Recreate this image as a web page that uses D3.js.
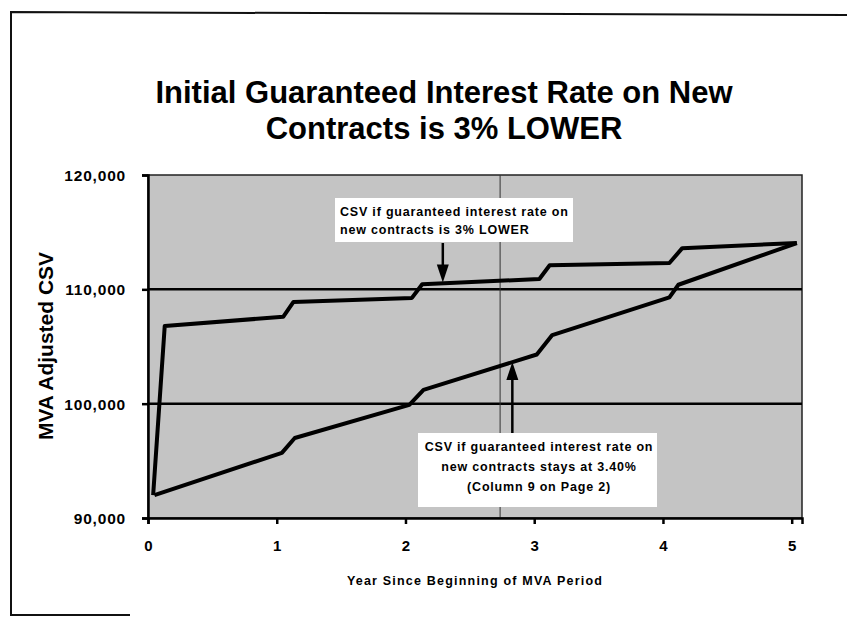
<!DOCTYPE html>
<html lang="en">
<head>
<meta charset="utf-8">
<title>MVA Adjusted CSV</title>
<script src="https://cdn.jsdelivr.net/npm/d3@7"></script>
<style>
  body { margin: 0; background: #fff; }
  svg text { font-family: "Liberation Sans", Arial, sans-serif; fill: #000; }
</style>
</head>
<body>
<div id="chart"></div>
<script>

// data
var xTicks = [0, 1, 2, 3, 4, 5]
var yTicks = [90000, 100000, 110000, 120000]

// CSV if guaranteed rate on new contracts is 3% lower
var lowerRateYears = [0.04, 0.13, 1.05, 1.13, 2.05, 2.13, 3.04, 3.12, 4.05, 4.15, 5.04]
var lowerRateCsv   = [92000, 106800, 107600, 108900, 109250, 110450, 110900, 112100, 112300, 113600, 114050]

// CSV if guaranteed rate stays at 3.40%
var sameRateYears = [0.05, 1.04, 1.14, 2.03, 2.14, 3.02, 3.14, 4.05, 4.12, 5.04]
var sameRateCsv   = [92000, 95700, 97000, 99900, 101200, 104300, 106000, 109300, 110400, 114050]

var titleLines = ["Initial Guaranteed Interest Rate on New", "Contracts is 3% LOWER"]
var upperNote = ["CSV if guaranteed interest rate on", "new contracts is 3% LOWER"]
var lowerNote = ["CSV if guaranteed interest rate on", "new contracts stays at 3.40%", "(Column 9 on Page 2)"]

var width = 847
var height = 617
var plot = {left: 148, right: 802, top: 175, bottom: 518}

var svg = d3.select("#chart")
  .append("svg")
    .attr("width", width)
    .attr("height", height)

// outer frame of the scanned page
svg.append("path")
  .attr("d", "M847,15 L11,12 L11,615 L130,615")
  .attr("fill", "none")
  .attr("stroke", "#111")
  .attr("stroke-width", 2)

var x = d3.scaleLinear().domain([0, 5.08]).range([plot.left, plot.right])
var y = d3.scaleLinear().domain([90000, 120000]).range([plot.bottom, plot.top])

// plot area
svg.append("rect")
  .attr("x", plot.left)
  .attr("y", plot.top)
  .attr("width", plot.right - plot.left)
  .attr("height", plot.bottom - plot.top)
  .attr("fill", "#c4c4c4")
  .attr("stroke", "#222")
  .attr("stroke-width", 1.5)

// horizontal gridlines
svg.append("g")
  .selectAll("line")
  .data(yTicks.slice(1, -1))
  .enter()
  .append("line")
    .attr("x1", plot.left)
    .attr("x2", plot.right)
    .attr("y1", function(d){ return y(d) })
    .attr("y2", function(d){ return y(d) })
    .attr("stroke", "#000")
    .attr("stroke-width", 2.5)

// faint vertical crease in the scan
svg.append("line")
  .attr("x1", x(2.735)).attr("x2", x(2.735))
  .attr("y1", plot.top).attr("y2", plot.bottom)
  .attr("stroke", "#333")
  .attr("stroke-width", 1)

// axes
var yAxis = svg.append("g")
  .attr("transform", "translate(" + plot.left + ",0)")
  .call(d3.axisLeft(y).tickValues(yTicks).tickSize(6).tickPadding(16)
    .tickFormat(d3.format(",")))
var xAxis = svg.append("g")
  .attr("transform", "translate(0," + plot.bottom + ")")
  .call(d3.axisBottom(x).tickValues(xTicks).tickSize(6).tickPadding(16)
    .tickFormat(d3.format("d")))

yAxis.selectAll("path, line").attr("stroke", "#000").attr("stroke-width", 2.5)
xAxis.selectAll("path, line").attr("stroke", "#000").attr("stroke-width", 2.5)
yAxis.selectAll("text")
  .style("font-size", "15.5px")
  .style("font-weight", "bold")
  .style("letter-spacing", "0.8px")
  .attr("dy", "0.35em")
xAxis.selectAll("text")
  .style("font-size", "15px")
  .style("font-weight", "bold")

// lines
var line = d3.line()
  .x(function(d){ return x(d[0]) })
  .y(function(d){ return y(d[1]) })

var series = [d3.zip(lowerRateYears, lowerRateCsv), d3.zip(sameRateYears, sameRateCsv)]

svg.append("g")
  .selectAll("path")
  .data(series)
  .enter()
  .append("path")
    .attr("d", line)
    .attr("fill", "none")
    .attr("stroke", "#000")
    .attr("stroke-width", 4)
    .attr("stroke-linejoin", "round")

// annotations: white box + arrow
function arrow(x0, yFrom, yTo) {
  var dir = yTo > yFrom ? 1 : -1
  svg.append("line")
    .attr("x1", x0).attr("x2", x0)
    .attr("y1", yFrom).attr("y2", yTo - dir * 16)
    .attr("stroke", "#000").attr("stroke-width", 2.5)
  svg.append("path")
    .attr("d", "M" + (x0 - 6) + "," + (yTo - dir * 18) + " L" + (x0 + 6) + "," + (yTo - dir * 18) + " L" + x0 + "," + yTo + " Z")
    .attr("fill", "#000")
}

function note(lines, bx, by, bw, bh, anchor, tx, ty, lh) {
  svg.append("rect")
    .attr("x", bx).attr("y", by)
    .attr("width", bw).attr("height", bh)
    .attr("fill", "#fff")
  svg.append("text")
    .attr("text-anchor", anchor)
    .style("font-size", "12.5px")
    .style("font-weight", "bold")
    .style("letter-spacing", "0.8px")
    .selectAll("tspan")
    .data(lines)
    .enter()
    .append("tspan")
      .attr("x", tx)
      .attr("y", function(d, i){ return ty + i * lh })
      .text(function(d){ return d })
}

var upX = x(2.29)
note(upperNote, 335, 198, 238, 44, "start", 340, 216, 18)
arrow(upX, 243, y(110600))

var loX = x(2.83)
note(lowerNote, 418, 433, 239, 74, "middle", 539, 451, 20)
arrow(loX, 433, y(103650))

// titles
svg.append("text")
  .attr("text-anchor", "middle")
  .style("font-size", "31px")
  .style("font-weight", "bold")
  .selectAll("tspan")
  .data(titleLines)
  .enter()
  .append("tspan")
    .attr("x", 444)
    .attr("y", function(d, i){ return 103 + i * 36 })
    .text(function(d){ return d })

svg.append("text")
  .attr("transform", "translate(53,346) rotate(-90)")
  .attr("text-anchor", "middle")
  .style("font-size", "21px")
  .style("font-weight", "bold")
  .text("MVA Adjusted CSV")

svg.append("text")
  .attr("x", 475)
  .attr("y", 585)
  .attr("text-anchor", "middle")
  .style("font-size", "12.5px")
  .style("font-weight", "bold")
  .style("letter-spacing", "1.2px")
  .text("Year Since Beginning of MVA Period")

</script>
</body>
</html>
